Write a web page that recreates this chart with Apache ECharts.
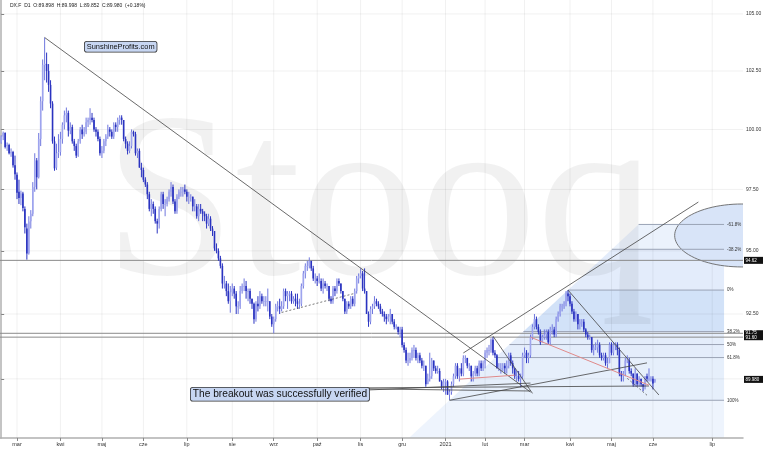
<!DOCTYPE html>
<html><head><meta charset="utf-8">
<script src="https://cdn.jsdelivr.net/npm/echarts@6/dist/echarts.min.js"></script>
<style>html,body{margin:0;padding:0;background:#fff}#c{width:765px;height:449px}</style>
</head><body><div id="c"></div>
<script>
// ---------- calendar ----------
const firstDay = '2020-02-19', lastDay = '2021-06-02', futureEnd = '2021-07-25';
const holidays = ['2020-04-10', '2020-12-25', '2021-01-01', '2021-04-02'];
const monthNames = ['sty','lut','mar','kwi','maj','cze','lip','sie','wrz','paź','lis','gru'];
const priceTicks = [90, 92.5, 95, 97.5, 100, 102.5, 105];

// ---------- daily bars [open, high, low, close] ----------
const ohlc = [
// Feb 2020
[99.45,99.75,99.40,99.70],[99.70,99.91,99.55,99.85],[99.85,99.88,99.20,99.26],[99.30,99.45,99.10,99.35],
[99.35,99.40,98.95,99.00],[99.00,99.20,98.85,99.05],[99.05,99.10,98.40,98.50],[98.50,98.90,97.90,98.13],
// Mar 2020
[98.10,98.20,97.10,97.36],[97.40,97.90,96.90,97.15],[97.15,97.45,96.85,97.33],[97.33,97.40,96.60,96.74],
[96.70,96.80,95.70,95.95],[95.90,96.10,94.65,94.89],[94.90,96.40,94.85,96.19],[96.20,96.65,95.90,96.50],
[96.50,97.80,96.40,97.59],[97.60,99.00,97.40,98.70],[98.70,98.80,97.50,98.00],[98.00,99.85,97.95,99.60],
[99.60,101.40,99.30,101.20],[101.20,103.00,100.80,102.77],[102.75,103.96,102.10,102.82],[102.80,103.30,102.00,102.50],
[102.50,102.80,101.60,101.90],[101.90,102.10,100.90,101.10],[101.10,101.20,99.40,99.50],[99.50,99.70,98.27,98.37],
[98.40,99.40,98.30,99.00],[99.00,99.80,98.80,99.05],
// Apr 2020
[99.05,99.90,98.90,99.60],[99.60,100.30,99.40,100.20],[100.20,100.80,100.00,100.60],[100.60,100.93,100.30,100.70],
[100.70,100.80,99.70,99.95],[99.95,100.30,99.80,100.10],[100.10,100.20,99.40,99.50],[99.50,99.60,99.10,99.30],
[99.30,99.40,98.80,98.90],[98.90,99.60,98.85,99.50],[99.50,100.10,99.40,100.00],[100.00,100.20,99.60,99.80],
[99.80,100.10,99.70,99.90],[99.90,100.50,99.80,100.30],[100.30,100.50,100.10,100.40],[100.40,100.90,100.20,100.50],
[100.50,100.70,100.30,100.40],[100.40,100.50,99.90,100.00],[100.00,100.10,99.70,99.90],[99.90,100.00,99.50,99.60],
[99.60,99.70,98.90,99.00],
// May 2020
[99.00,99.30,98.80,99.10],[99.10,99.60,99.00,99.50],[99.50,99.80,99.30,99.70],[99.70,100.20,99.60,100.00],
[100.00,100.10,99.70,99.90],[99.90,100.00,99.60,99.70],[99.70,100.30,99.60,100.20],[100.20,100.30,99.90,100.10],
[100.10,100.50,99.90,100.40],[100.40,100.60,100.20,100.50],[100.50,100.60,100.20,100.40],[100.40,100.40,99.50,99.60],
[99.60,99.70,99.20,99.40],[99.40,99.50,98.95,99.10],[99.10,99.50,99.00,99.30],[99.30,100.00,99.20,99.90],
[99.90,99.95,99.70,99.80],[99.80,99.90,98.90,99.00],[99.00,99.20,98.80,99.10],[99.10,99.20,98.40,98.40],
[98.40,98.60,98.00,98.30],
// Jun 2020
[98.30,98.40,97.80,97.90],[97.90,98.00,97.60,97.70],[97.70,97.80,97.10,97.30],[97.30,97.40,96.60,96.70],
[96.70,97.10,96.40,96.90],[96.90,97.00,96.50,96.70],[96.70,96.80,96.10,96.20],[96.20,96.30,95.70,96.10],
[96.10,96.80,95.90,96.70],[96.70,97.40,96.60,97.30],[97.30,97.40,96.70,96.90],[96.90,97.10,96.40,96.90],
[96.90,97.20,96.80,97.10],[97.10,97.50,97.00,97.40],[97.40,97.80,97.20,97.60],[97.60,97.70,96.90,97.00],
[97.00,97.10,96.50,96.60],[96.60,97.30,96.50,97.20],[97.20,97.50,97.10,97.40],[97.40,97.60,97.20,97.40],
[97.40,97.60,97.20,97.50],[97.50,97.70,97.30,97.40],
// Jul 2020
[97.40,97.50,97.00,97.20],[97.20,97.40,96.90,97.20],[97.20,97.30,97.00,97.20],[97.20,97.20,96.60,96.80],
[96.80,97.10,96.60,96.80],[96.80,96.90,96.30,96.40],[96.40,96.90,96.20,96.70],[96.70,96.90,96.50,96.60],
[96.60,96.70,96.20,96.50],[96.50,96.60,96.20,96.40],[96.40,96.50,95.90,96.10],[96.10,96.50,96.00,96.30],
[96.30,96.40,95.80,95.90],[95.90,96.00,95.60,95.80],[95.80,95.80,95.00,95.10],[95.10,95.30,94.90,95.00],
[95.00,95.10,94.60,94.70],[94.70,94.80,94.30,94.40],[94.40,94.50,93.50,93.70],[93.70,94.00,93.50,93.70],
[93.70,93.80,93.20,93.40],[93.40,93.70,92.90,93.00],[93.00,93.60,92.55,93.35],
// Aug 2020
[93.35,93.70,93.20,93.50],[93.50,93.60,93.10,93.30],[93.30,93.40,92.50,92.80],[92.80,93.00,92.50,92.80],
[92.80,93.60,92.70,93.40],[93.40,93.70,93.30,93.60],[93.60,93.90,93.40,93.60],[93.60,93.80,93.10,93.40],
[93.40,93.50,93.00,93.40],[93.40,93.50,92.90,93.10],[93.10,93.10,92.70,92.90],[92.90,92.95,92.12,92.30],
[92.30,93.00,92.20,92.90],[92.90,93.20,92.60,92.80],[92.80,93.40,92.70,93.20],[93.20,93.30,92.90,93.00],
[93.00,93.20,92.80,93.00],[93.00,93.20,92.80,93.00],[93.00,93.50,92.60,93.00],[93.00,93.00,92.30,92.40],
[92.40,92.50,92.00,92.10],
// Sep 2020
[92.10,92.40,91.75,92.30],[92.30,92.90,92.20,92.80],[92.80,93.00,92.60,92.80],[92.80,93.10,92.50,92.70],
[92.70,93.00,92.60,92.80],[92.80,93.50,92.70,93.40],[93.40,93.50,93.00,93.20],[93.20,93.40,92.70,93.30],
[93.30,93.40,93.00,93.30],[93.30,93.40,92.90,93.00],[93.00,93.20,92.90,93.10],[93.10,93.30,92.80,93.00],
[93.00,93.30,92.70,92.90],[92.90,93.10,92.70,92.90],[92.90,93.70,92.80,93.60],[93.60,94.20,93.50,94.10],
[94.10,94.50,93.90,94.40],[94.40,94.60,94.20,94.40],[94.40,94.74,94.30,94.60],[94.60,94.60,94.20,94.30],
[94.30,94.40,93.80,93.90],[93.90,94.10,93.70,93.90],
// Oct 2020
[93.90,94.00,93.60,93.80],[93.80,94.10,93.70,93.80],[93.80,93.90,93.40,93.50],[93.50,93.90,93.30,93.70],
[93.70,93.80,93.50,93.60],[93.60,93.70,93.40,93.60],[93.60,93.60,93.00,93.10],[93.10,93.20,92.90,93.00],
[93.00,93.60,92.90,93.50],[93.50,93.60,93.20,93.40],[93.40,93.90,93.30,93.80],[93.80,93.90,93.60,93.70],
[93.70,93.70,93.30,93.40],[93.40,93.40,93.00,93.10],[93.10,93.10,92.50,92.60],[92.60,93.00,92.50,92.90],
[92.90,93.00,92.70,92.80],[92.80,93.20,92.70,93.10],[93.10,93.20,92.80,92.90],[92.90,93.50,92.80,93.40],
[93.40,94.00,93.30,93.90],[93.90,94.10,93.70,94.00],
// Nov 2020
[94.00,94.30,93.90,94.10],[94.10,94.20,93.40,93.50],[93.50,94.30,93.30,93.40],[93.40,93.40,92.50,92.50],
[92.50,92.60,92.00,92.20],[92.20,92.80,92.10,92.70],[92.70,92.90,92.50,92.80],[92.80,93.20,92.70,93.00],
[93.00,93.10,92.80,92.90],[92.90,93.00,92.70,92.80],[92.80,92.90,92.50,92.60],[92.60,92.70,92.40,92.50],
[92.50,92.60,92.20,92.40],[92.40,92.50,92.10,92.30],[92.30,92.50,92.20,92.40],[92.40,92.70,92.10,92.50],
[92.50,92.50,92.10,92.20],[92.20,92.30,91.90,92.00],[92.00,92.10,91.90,92.00],[92.00,92.00,91.70,91.80],
[91.80,92.00,91.60,91.90],
// Dec 2020
[91.90,92.00,91.20,91.30],[91.30,91.40,91.00,91.10],[91.10,91.20,90.60,90.70],[90.70,91.00,90.50,90.70],
[90.70,91.00,90.60,90.80],[90.80,91.20,90.70,91.10],[91.10,91.30,90.80,91.10],[91.10,91.20,90.70,90.80],
[90.80,91.00,90.60,90.90],[90.90,91.00,90.60,90.70],[90.70,90.80,90.40,90.50],[90.50,90.70,90.30,90.50],
[90.50,90.50,89.70,89.80],[89.80,90.20,89.80,90.00],[90.00,91.00,89.90,90.10],[90.10,90.80,90.00,90.70],
[90.70,90.70,90.30,90.40],[90.40,90.50,90.20,90.30],[90.30,90.50,90.20,90.30],[90.30,90.40,89.90,89.90],
[89.90,89.95,89.60,89.70],[89.70,90.00,89.50,89.90],
// Jan 2021
[89.90,90.00,89.40,89.90],[89.90,89.95,89.40,89.40],[89.40,89.60,89.20,89.50],[89.50,89.90,89.40,89.80],
[89.80,90.20,89.70,90.10],[90.10,90.60,90.00,90.50],[90.50,90.60,90.00,90.10],[90.10,90.40,89.90,90.40],
[90.40,90.60,90.10,90.20],[90.20,90.90,90.10,90.80],[90.80,90.90,90.60,90.80],[90.80,90.80,90.40,90.50],
[90.50,90.60,90.30,90.50],[90.50,90.50,89.90,90.10],[90.10,90.30,89.90,90.20],[90.20,90.50,90.10,90.40],
[90.40,90.50,90.10,90.20],[90.20,90.70,90.10,90.60],[90.60,90.70,90.30,90.40],[90.40,90.70,90.30,90.60],
// Feb 2021
[90.60,91.10,90.40,91.00],[91.00,91.20,90.80,91.10],[91.10,91.30,90.90,91.10],[91.10,91.55,91.00,91.50],
[91.50,91.60,90.90,91.00],[91.00,91.10,90.80,90.90],[90.90,90.95,90.40,90.40],[90.40,90.60,90.30,90.40],
[90.40,90.60,90.20,90.40],[90.40,90.60,90.30,90.50],[90.50,90.60,90.20,90.40],[90.40,90.70,90.20,90.50],
[90.50,91.00,90.40,90.90],[90.90,91.00,90.50,90.60],[90.60,90.70,90.20,90.40],[90.40,90.40,90.00,90.10],
[90.10,90.30,89.90,90.10],[90.10,90.30,89.90,90.00],[90.00,90.20,89.68,90.10],[90.10,91.00,90.00,90.90],
// Mar 2021
[90.90,91.20,90.80,91.00],[91.00,91.10,90.60,90.80],[90.80,91.00,90.60,90.90],[90.90,91.70,90.80,91.60],
[91.60,92.10,91.50,92.00],[92.00,92.50,91.90,92.30],[92.30,92.40,91.90,92.00],[92.00,92.10,91.70,91.80],
[91.80,91.90,91.30,91.40],[91.40,91.70,91.40,91.60],[91.60,91.90,91.50,91.70],[91.70,91.90,91.50,91.80],
[91.80,91.90,91.30,91.40],[91.40,92.00,91.30,91.90],[91.90,92.10,91.70,91.90],[91.90,92.00,91.60,91.70],
[91.70,92.40,91.60,92.30],[92.30,92.60,92.20,92.50],[92.50,92.90,92.40,92.80],[92.80,92.90,92.60,92.80],
[92.80,93.00,92.70,92.90],[92.90,93.40,92.80,93.30],[93.30,93.44,93.00,93.20],
// Apr 2021
[93.20,93.30,92.80,92.90],[92.90,93.00,92.50,92.60],[92.60,92.70,92.20,92.30],[92.30,92.60,92.20,92.50],
[92.50,92.50,91.90,92.10],[92.10,92.30,91.90,92.20],[92.20,92.30,92.00,92.20],[92.20,92.30,91.80,91.90],
[91.90,91.95,91.60,91.70],[91.70,91.80,91.50,91.60],[91.60,91.70,91.50,91.60],[91.60,91.60,91.00,91.10],
[91.10,91.30,90.90,91.20],[91.20,91.40,91.10,91.20],[91.20,91.50,91.00,91.30],[91.30,91.40,90.80,90.90],
[90.90,91.00,90.70,90.80],[90.80,91.00,90.70,90.90],[90.90,91.00,90.50,90.60],[90.60,90.80,90.40,90.60],
[90.60,91.40,90.60,91.30],
// May 2021
[91.30,91.40,90.90,91.00],[91.00,91.40,90.90,91.30],[91.30,91.40,91.10,91.30],[91.30,91.40,90.90,91.10],
[91.10,91.20,90.10,90.20],[90.20,90.30,89.90,90.10],[90.10,90.30,89.90,90.20],[90.20,90.80,90.10,90.70],
[90.70,90.90,90.60,90.70],[90.70,90.80,90.20,90.30],[90.30,90.40,90.10,90.20],[90.20,90.20,89.70,89.80],
[89.80,90.40,89.70,90.20],[90.20,90.20,89.70,89.80],[89.80,90.10,89.70,90.00],[90.00,90.00,89.70,89.80],
[89.80,89.80,89.53,89.70],[89.70,90.10,89.60,90.10],[90.10,90.20,89.90,90.00],[90.00,90.40,89.90,90.00],
[90.00,90.10,89.90,90.00],
// Jun 2021
[90.00,90.10,89.60,89.82],[89.898,89.998,89.852,89.980]
];

// ---------- annotations (dates / prices) ----------
const blackLines = [
  ['2020-03-20',103.96,'2021-03-04',89.50],
  ['2021-01-15',90.99,'2021-06-24',96.98],
  ['2021-03-31',93.44,'2021-06-04',89.39],
  ['2021-02-05',91.64,'2021-03-05',89.45],
  ['2021-01-06',89.19,'2021-05-27',90.61],
  ['2020-11-06',89.58,'2021-03-04',89.84],
  ['2020-11-06',89.62,'2021-03-04',89.54],
  ['2020-11-06',89.66,'2021-05-28',89.73]
];
const redLines = [
  ['2021-01-13',89.99,'2021-02-22',90.14],
  ['2021-03-04',91.60,'2021-05-28',89.76]
];
const dashedLines = [
  ['2020-09-07',92.56,'2020-10-28',93.31],
  ['2021-05-13',90.02,'2021-05-27',89.38]
];
const levelLines = [94.62, 91.75, 91.60];
const priceTags = [['94.62', 94.62], ['91.75\n91.60', 91.675], ['89.980', 89.98]];
const fibLow = ['2021-01-06', 89.19], fibHigh = ['2021-03-31', 93.44], fibEnd = '2021-07-07';
const fibLevels = [-0.618, -0.382, 0, 0.382, 0.5, 0.618, 1];
const fibLabels = ['-61.8%', '-38.2%', '0%', '38.2%', '50%', '61.8%', '100%'];
const ellipseCenter = ['2021-07-16', 95.62], ellipseLeft = '2021-06-12', ellipseTop = 96.90;
const yMinPrice = 87.78, yMaxPrice = 105.62;

// ---------- build ----------
const days = [];
(function () {
  const hol = new Set(holidays);
  const d = new Date(firstDay + 'T00:00:00Z'), end = new Date(lastDay + 'T00:00:00Z');
  while (d <= end) {
    const s = d.toISOString().slice(0, 10), wd = d.getUTCDay();
    if (wd !== 0 && wd !== 6 && !hol.has(s)) days.push(s);
    d.setUTCDate(d.getUTCDate() + 1);
  }
  const fe = new Date(futureEnd + 'T00:00:00Z');
  while (d <= fe) { days.push(d.toISOString().slice(0, 10)); d.setUTCDate(d.getUTCDate() + 1); }
})();
if (days.indexOf(lastDay) + 1 !== ohlc.length) throw new Error('count mismatch ' + days.indexOf(lastDay) + ' ' + ohlc.length);
const idx = s => { for (let i = 0; i < days.length; i++) if (days[i] >= s) return i; return days.length - 1; };
const L = Math.log;
const X_MIN = -0.6, X_MAX = 375.6;

const monthTicks = [];
for (let i = 1; i < days.length; i++) if (days[i].slice(0, 7) !== days[i - 1].slice(0, 7)) monthTicks.push(i);
const monthLabel = v => { const d = days[Math.round(v)]; const m = +d.slice(5, 7); return m === 1 ? d.slice(0, 4) : monthNames[m - 1]; };

// fib geometry
const fi0 = idx(fibLow[0]), fl0 = L(fibLow[1]), fi1 = idx(fibHigh[0]), fl1 = L(fibHigh[1]);
const fSlope = (fl1 - fl0) / (fi1 - fi0);
const diagIdx = lp => fi0 + (lp - fl0) / fSlope;
const fibPrice = lv => fibHigh[1] - lv * (fibHigh[1] - fibLow[1]);
const fEnd = idx(fibEnd);
const bandColors = ['#ebf2fc', '#e3ecfb', '#d2e2f8', '#e4edfb', '#e4edfb', '#e6effb', '#eef4fd'];
const bands = [];
for (let k = 0; k < fibLevels.length; k++) {
  const a = L(fibPrice(fibLevels[k]));
  const b = k + 1 < fibLevels.length ? L(fibPrice(fibLevels[k + 1])) : L(yMinPrice);
  bands.push([a, b, k]);
}

const segData = (arr) => arr.map(s => [idx(s[0]), L(s[1]), idx(s[2]), L(s[3])]);
const lineSeries = (name, arr, style, z) => ({
  type: 'custom', name, z, silent: true, clip: true,
  data: segData(arr), encode: { x: [0, 2], y: [1, 3] },
  renderItem(p, api) {
    const a = api.coord([api.value(0), api.value(1)]), b = api.coord([api.value(2), api.value(3)]);
    return { type: 'line', shape: { x1: a[0], y1: a[1], x2: b[0], y2: b[1] }, style: Object.assign({ fill: null }, style) };
  }
});

const option = {
  animation: false,
  backgroundColor: '#fff',
  grid: { left: 0, right: 22, top: 0, bottom: 11, containLabel: false },
  xAxis: {
    type: 'value', min: X_MIN, max: X_MAX,
    axisLine: { show: true, onZero: false, lineStyle: { color: '#b0b0b0', width: 1.5 } },
    axisTick: { show: true, length: 3, customValues: monthTicks, lineStyle: { color: '#888' } },
    axisLabel: { customValues: monthTicks, formatter: monthLabel, fontSize: 5.5, color: '#333', margin: 3, fontFamily: 'Liberation Sans' },
    splitLine: { show: false }
  },
  yAxis: {
    type: 'value', position: 'right', min: L(yMinPrice), max: L(yMaxPrice),
    axisLine: { show: true, lineStyle: { color: '#b0b0b0', width: 1.5 } },
    axisTick: { show: true, length: 3, customValues: priceTicks.map(L), lineStyle: { color: '#888' } },
    axisLabel: { customValues: priceTicks.map(L), formatter: v => Math.exp(v).toFixed(2), fontSize: 5, color: '#333', margin: 3, fontFamily: 'Liberation Sans' },
    splitLine: { show: false }
  },
  graphic: [
    { type: 'text', left: 104, top: 94, z: 1, silent: true,
      style: { text: 'Stooq', font: '236px "Liberation Serif"', fill: 'rgba(0,0,0,0.055)' } },
    { type: 'text', left: 10, top: 3, z: 50,
      style: { text: 'DX.F  D1  O:89.898  H:89.998  L:89.852  C:89.980  (+0.18%)', font: '5px "Liberation Sans"', fill: '#222' } },
    { type: 'text', left: 84, top: 41, z: 50,
      style: { text: 'SunshineProfits.com', font: '7.4px "Liberation Sans"', fill: '#111', backgroundColor: '#c7d6f2', borderColor: '#333', borderWidth: 0.8, borderRadius: 2, padding: [1.5, 2] } },
    { type: 'text', left: 190, top: 387, z: 50,
      style: { text: 'The breakout was successfully verified', font: '10.2px "Liberation Sans"', fill: '#111', backgroundColor: '#c7d6f2', borderColor: '#333', borderWidth: 0.8, borderRadius: 2, padding: [1.5, 2] } }
  ],
  series: [
    { // fibonacci shading
      type: 'custom', name: 'fibBands', z: 0, silent: true, clip: true,
      data: bands, encode: { y: [0, 1] },
      renderItem(p, api) {
        const a = api.value(0), b = api.value(1), k = api.value(2);
        const pts = [[diagIdx(a), a], [fEnd, a], [fEnd, b], [diagIdx(b), b]].map(q => api.coord(q));
        return { type: 'polygon', shape: { points: pts }, style: { fill: bandColors[k] } };
      }
    },
    { // faint grid
      type: 'custom', name: 'grid', z: 1, silent: true, clip: true,
      data: monthTicks.map(v => [v, 0]).concat(priceTicks.map(v => [0, L(v)])),
      encode: { x: 0 },
      renderItem(p, api) {
        const cs = p.coordSys, k = p.dataIndex;
        if (k < monthTicks.length) {
          const x = api.coord([api.value(0), L(100)])[0];
          return { type: 'line', shape: { x1: x, y1: cs.y, x2: x, y2: cs.y + cs.height }, style: { stroke: 'rgba(0,0,0,0.06)', lineWidth: 1 } };
        }
        const y = api.coord([0, api.value(1)])[1];
        return { type: 'line', shape: { x1: cs.x, y1: y, x2: cs.x + cs.width, y2: y }, style: { stroke: 'rgba(0,0,0,0.06)', lineWidth: 1 } };
      }
    },
    { // target ellipse
      type: 'custom', name: 'ellipse', z: 3, silent: true, clip: true,
      data: [[idx(ellipseCenter[0]), L(ellipseCenter[1]), idx(ellipseCenter[0]) - idx(ellipseLeft), L(ellipseTop) - L(ellipseCenter[1])]],
      encode: { x: 0, y: 1 },
      renderItem(p, api) {
        const cx = api.value(0), cy = api.value(1), rx = api.value(2), ry = api.value(3);
        const pts = [];
        for (let t = 0; t < 96; t++) { const a = t / 96 * Math.PI * 2; pts.push(api.coord([cx + rx * Math.cos(a), cy + ry * Math.sin(a)])); }
        return { type: 'polygon', shape: { points: pts }, style: { fill: '#d8e4f8', stroke: '#666', lineWidth: 0.9 } };
      }
    },
    { // fib level lines + labels
      type: 'custom', name: 'fibLevels', z: 4, silent: true, clip: false,
      data: fibLevels.map((lv, k) => [L(fibPrice(lv)), k]), encode: { y: 0 },
      renderItem(p, api) {
        const lp = api.value(0), k = api.value(1);
        const a = api.coord([diagIdx(lp), lp]), b = api.coord([fEnd, lp]);
        return { type: 'group', children: [
          { type: 'line', shape: { x1: a[0], y1: a[1], x2: b[0], y2: b[1] }, style: { stroke: '#9aa3b5', lineWidth: 1 } },
          { type: 'text', x: b[0] + 3, y: b[1], style: { text: fibLabels[k], font: '4.5px "Liberation Sans"', fill: '#333', verticalAlign: 'middle' } }
        ] };
      }
    },
    { // horizontal levels across the whole chart
      type: 'custom', name: 'levels', z: 4, silent: true, clip: true,
      data: levelLines.map(v => [L(v)]), encode: { y: 0 },
      renderItem(p, api) {
        const y = api.coord([0, api.value(0)])[1], cs = p.coordSys;
        return { type: 'line', shape: { x1: cs.x, y1: y, x2: cs.x + cs.width, y2: y }, style: { stroke: '#8a8a8a', lineWidth: 1 } };
      }
    },
    lineSeries('trend', blackLines, { stroke: '#444', lineWidth: 0.8 }, 6),
    lineSeries('red', redLines, { stroke: '#e08a8a', lineWidth: 1 }, 6),
    lineSeries('dashed', dashedLines, { stroke: '#555', lineWidth: 0.8, lineDash: [2, 2] }, 6),
    { // candles
      type: 'custom', name: 'DX.F', z: 5, silent: true, clip: true,
      data: ohlc.map((d, i) => [i, L(d[0]), L(d[1]), L(d[2]), L(d[3])]),
      encode: { x: 0, y: [1, 2, 3, 4] },
      renderItem(p, api) {
        const x = api.value(0);
        const o = api.coord([x, api.value(1)]), hi = api.coord([x, api.value(2)]);
        const lo = api.coord([x, api.value(3)]), c = api.coord([x, api.value(4)]);
        const up = api.value(4) >= api.value(1);
        const top = Math.min(o[1], c[1]), h = Math.max(Math.abs(o[1] - c[1]), 0.8);
        return { type: 'group', children: [
          { type: 'line', shape: { x1: hi[0], y1: hi[1], x2: lo[0], y2: lo[1] }, style: { stroke: up ? '#6f77de' : '#2a33c0', lineWidth: 1 } },
          { type: 'rect', shape: { x: o[0] - 0.8, y: top, width: 1.6, height: h }, style: { fill: up ? '#9ea4ee' : '#2a33c0' } }
        ] };
      }
    },
    { // price tags on the right axis
      type: 'custom', name: 'tags', z: 20, silent: true, clip: false,
      data: priceTags.map(t => [L(t[1])]), encode: { y: 0 },
      renderItem(p, api) {
        const k = p.dataIndex, cs = p.coordSys, y = api.coord([0, api.value(0)])[1];
        const two = priceTags[k][0].indexOf('\n') >= 0, h = two ? 10 : 7;
        return { type: 'group', children: [
          { type: 'rect', shape: { x: cs.x + cs.width + 1, y: y - h / 2, width: 19, height: h }, style: { fill: '#111' } },
          { type: 'text', x: cs.x + cs.width + 2.5, y: y, style: { text: priceTags[k][0], font: '4.5px "Liberation Sans"', fill: '#fff', verticalAlign: 'middle', lineHeight: 5 } }
        ] };
      }
    }
  ]
};
const chart = echarts.init(document.getElementById('c'), null, { renderer: 'canvas', width: 765, height: 449 });
chart.setOption(option);
</script></body></html>
